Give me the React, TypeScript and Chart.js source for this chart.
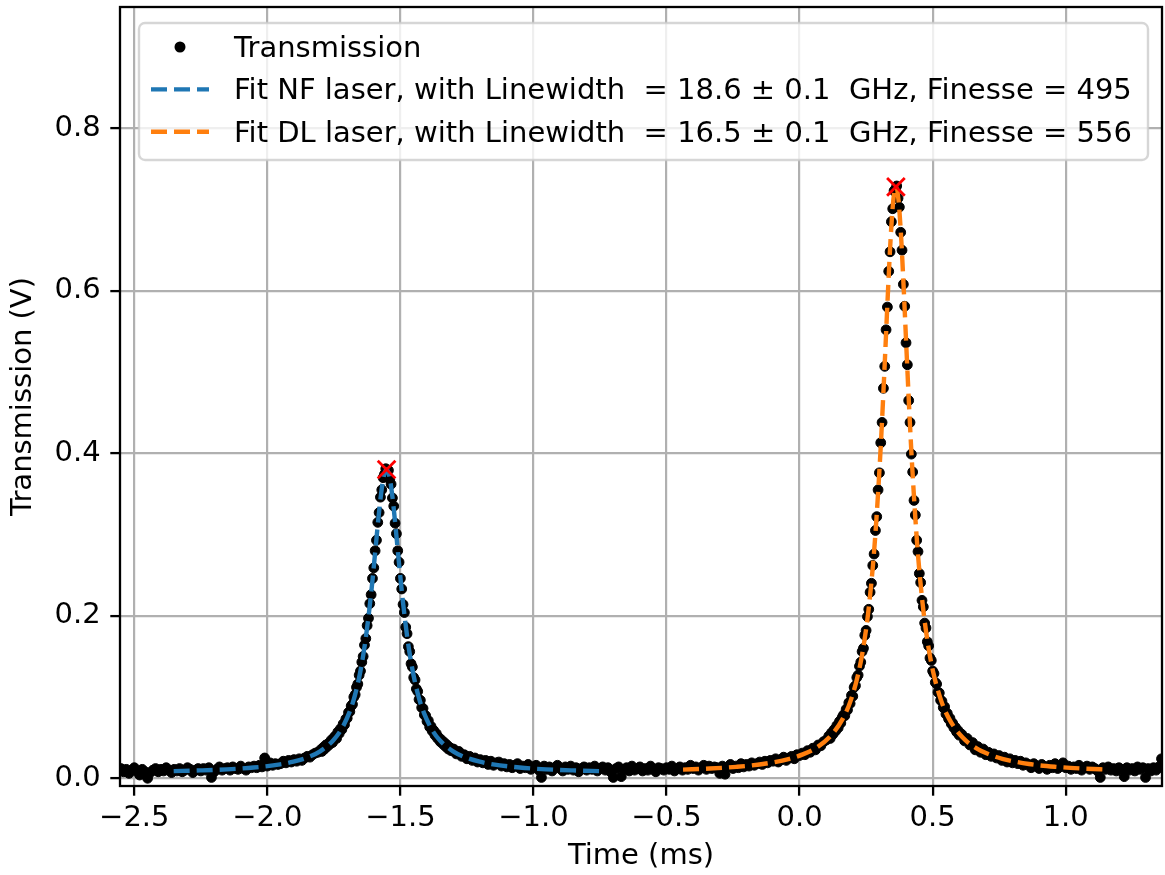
import React, { useEffect, useRef } from "react";
import { Chart, registerables } from "chart.js";

Chart.register(...registerables);

const FONT_FAMILY = "'DejaVu Sans', 'Liberation Sans', sans-serif";
const FONT_SIZE = 29;

// ---- axes ----
const xTicks = [-2.5, -2.0, -1.5, -1.0, -0.5, 0.0, 0.5, 1.0];
const yTicks = [0.0, 0.2, 0.4, 0.6, 0.8];
const xMin = -2.5537;
const xMax = 1.3619;
const yMin = -0.0095;
const yMax = 0.9493;
const xLabel = "Time (ms)";
const yLabel = "Transmission (V)";

// ---- series labels ----
const dataLabel = "Transmission";
const fitNFLabel = "Fit NF laser, with Linewidth  = 18.6 \u00b1 0.1  GHz, Finesse = 495";
const fitDLLabel = "Fit DL laser, with Linewidth  = 16.5 \u00b1 0.1  GHz, Finesse = 556";

// ---- measured transmission (V), sampled in segments: start (ms), step (ms), values ----
const measStartA = -2.55;
const measStepA = 0.01;
const measA = [
  0.012, 0.008, 0.011, 0.006, 0.010, 0.013, 0.009, 0.004, 0.011, 0.008,
  0.000, 0.007, 0.010, 0.012, 0.008, 0.011, 0.009, 0.013, 0.010, 0.007,
  0.011, 0.009, 0.012, 0.008, 0.010, 0.013, 0.011, 0.007, 0.010, 0.012,
  0.009, 0.012, 0.010, 0.013, 0.001, 0.008, 0.011, 0.014, 0.010, 0.012,
  0.013, 0.010, 0.014, 0.012, 0.011, 0.015, 0.012, 0.010, 0.014, 0.013,
  0.015, 0.013, 0.016, 0.014, 0.025, 0.015, 0.019, 0.016, 0.018, 0.017,
  0.018, 0.021, 0.019, 0.022, 0.020, 0.023, 0.021, 0.024, 0.022, 0.025,
  0.027, 0.026, 0.029, 0.031, 0.032,
];

const measStartB = -1.8;
const measStepB = 0.005;
const measB = [
  0.035, 0.033, 0.038, 0.036, 0.041, 0.039, 0.043, 0.042, 0.047, 0.044,
  0.050, 0.052, 0.049, 0.057, 0.055, 0.061, 0.060, 0.067, 0.066, 0.073,
  0.074, 0.081, 0.082, 0.089, 0.091, 0.100, 0.103, 0.112, 0.116, 0.127,
  0.132, 0.143, 0.150, 0.164, 0.172, 0.188, 0.197, 0.215, 0.226, 0.246,
  0.259, 0.280, 0.293, 0.315, 0.327, 0.346, 0.355, 0.370, 0.374, 0.381,
  0.378, 0.379, 0.368, 0.362, 0.345, 0.335, 0.314, 0.301, 0.280, 0.266,
  0.246, 0.233, 0.214, 0.204, 0.186, 0.178, 0.162, 0.156, 0.141, 0.137,
  0.124, 0.121, 0.110, 0.107, 0.097, 0.096, 0.087, 0.086, 0.078, 0.077,
  0.070, 0.071, 0.063, 0.064, 0.058, 0.059, 0.053, 0.055, 0.049, 0.050,
  0.045, 0.047, 0.042, 0.044, 0.039, 0.041, 0.036, 0.038, 0.034, 0.036,
];

const measStartC = -1.3;
const measStepC = 0.01;
const measC = [
  0.036, 0.030, 0.033, 0.027, 0.029, 0.024, 0.027, 0.022, 0.025, 0.020,
  0.023, 0.019, 0.022, 0.017, 0.021, 0.016, 0.019, 0.020, 0.015, 0.018,
  0.014, 0.017, 0.013, 0.016, 0.018, 0.012, 0.015, 0.013, 0.017, 0.011,
  0.014, 0.016, 0.010, 0.001, 0.015, 0.011, 0.014, 0.009, 0.013, 0.016,
  0.012, 0.009, 0.014, 0.011, 0.015, 0.010, 0.013, 0.008, 0.012, 0.014,
  0.010, 0.013, 0.011, 0.015, 0.009, 0.012, 0.014, 0.010, 0.013, 0.008,
  0.001, 0.012, 0.014, 0.002, 0.011, 0.013, 0.009, 0.015, 0.010, 0.012,
  0.014, 0.009, 0.012, 0.010, 0.015, 0.011, 0.008, 0.013, 0.012, 0.010,
  0.013, 0.011, 0.015, 0.009, 0.012, 0.014, 0.010, 0.013, 0.011, 0.016,
  0.012, 0.014, 0.010, 0.013, 0.016, 0.011, 0.015, 0.012, 0.014, 0.013,
  0.006, 0.015, 0.005, 0.014, 0.017, 0.012, 0.015, 0.013, 0.018, 0.014,
  0.017, 0.015, 0.019, 0.016, 0.018, 0.020, 0.017, 0.021, 0.019, 0.022,
  0.021, 0.024, 0.020, 0.023, 0.026, 0.022, 0.025, 0.027, 0.024, 0.029,
  0.028, 0.031, 0.029, 0.034, 0.032, 0.037, 0.035, 0.041, 0.040, 0.045,
  0.047,
];

const measStartD = 0.11;
const measStepD = 0.005;
const measD = [
  0.052, 0.049, 0.056, 0.054, 0.060, 0.058, 0.065, 0.062, 0.070, 0.068,
  0.075, 0.078, 0.077, 0.085, 0.084, 0.093, 0.092, 0.102, 0.101, 0.112,
  0.114, 0.124, 0.127, 0.138, 0.143, 0.156, 0.160, 0.176, 0.182, 0.199,
  0.208, 0.229, 0.240, 0.262, 0.276, 0.305, 0.322, 0.355, 0.376, 0.413,
  0.438, 0.480, 0.507, 0.552, 0.580, 0.624, 0.648, 0.685, 0.701, 0.723,
  0.725, 0.729, 0.714, 0.703, 0.672, 0.650, 0.608, 0.581, 0.536, 0.509,
  0.465, 0.438, 0.399, 0.377, 0.342, 0.324, 0.293, 0.279, 0.252, 0.241,
  0.219, 0.211, 0.191, 0.185, 0.168, 0.163, 0.148, 0.145, 0.132, 0.129,
  0.118, 0.116, 0.106, 0.105, 0.096, 0.095, 0.087, 0.088, 0.079, 0.080,
  0.073, 0.074, 0.067, 0.068, 0.062, 0.063, 0.057, 0.059, 0.053, 0.055,
];

const measStartE = 0.61;
const measStepE = 0.01;
const measE = [
  0.054, 0.046, 0.049, 0.041, 0.044, 0.035, 0.039, 0.032, 0.036, 0.029,
  0.032, 0.027, 0.030, 0.025, 0.028, 0.022, 0.026, 0.020, 0.024, 0.019,
  0.022, 0.018, 0.021, 0.016, 0.019, 0.017, 0.013, 0.018, 0.015, 0.012,
  0.017, 0.014, 0.011, 0.016, 0.013, 0.018, 0.012, 0.015, 0.019, 0.013,
  0.015, 0.011, 0.014, 0.012, 0.016, 0.010, 0.013, 0.015, 0.011, 0.014,
  0.012, 0.009, 0.001, 0.013, 0.011, 0.014, 0.010, 0.012, 0.009, 0.013,
  0.011, 0.002, 0.013, 0.010, 0.012, 0.009, 0.014, 0.011, 0.013, 0.001,
  0.012, 0.009, 0.013, 0.010, 0.014, 0.024,
];

// ---- Lorentzian fits ----
const fitNFx = [
  -2.352, -2.252, -2.152, -2.052, -1.952, -1.902, -1.852, -1.802, -1.752, -1.722,
  -1.692, -1.672, -1.652, -1.632, -1.612, -1.602, -1.592, -1.582, -1.572, -1.562,
  -1.552,
  -1.542, -1.532, -1.522, -1.512, -1.502, -1.492, -1.472, -1.452, -1.432, -1.412,
  -1.382, -1.352, -1.302, -1.252, -1.202, -1.152, -1.052, -0.952, -0.852, -0.752,
];
const fitNFy = [
  0.0088, 0.0097, 0.0110, 0.0132, 0.0171, 0.0204, 0.0253, 0.0332, 0.0468, 0.0602,
  0.0808, 0.1009, 0.1290, 0.1682, 0.2216, 0.2536, 0.2880, 0.3220, 0.3518, 0.3725,
  0.3800,
  0.3725, 0.3518, 0.3220, 0.2880, 0.2536, 0.2216, 0.1682, 0.1290, 0.1009, 0.0808,
  0.0602, 0.0468, 0.0332, 0.0253, 0.0204, 0.0171, 0.0132, 0.0110, 0.0097, 0.0088,
];
const fitDLx = [
  -0.438, -0.338, -0.238, -0.138, -0.038, 0.012, 0.062, 0.112, 0.162, 0.192,
  0.222, 0.242, 0.262, 0.282, 0.302, 0.312, 0.322, 0.332, 0.342, 0.352,
  0.362,
  0.372, 0.382, 0.392, 0.402, 0.412, 0.422, 0.442, 0.462, 0.482, 0.502,
  0.532, 0.562, 0.612, 0.662, 0.712, 0.762, 0.862, 0.962, 1.062, 1.162,
];
const fitDLy = [
  0.0106, 0.0120, 0.0141, 0.0176, 0.0240, 0.0294, 0.0374, 0.0504, 0.0731, 0.0956,
  0.1308, 0.1659, 0.2158, 0.2877, 0.3903, 0.4543, 0.5251, 0.5979, 0.6637, 0.7108,
  0.7280,
  0.7108, 0.6637, 0.5979, 0.5251, 0.4543, 0.3903, 0.2877, 0.2158, 0.1659, 0.1308,
  0.0956, 0.0731, 0.0504, 0.0374, 0.0294, 0.0240, 0.0176, 0.0141, 0.0120, 0.0106,
];

// ---- detected peaks ----
const peakX = [-1.552, 0.362];
const peakY = [0.38, 0.728];

const measSegments: [number, number, number[]][] = [
  [measStartA, measStepA, measA],
  [measStartB, measStepB, measB],
  [measStartC, measStepC, measC],
  [measStartD, measStepD, measD],
  [measStartE, measStepE, measE],
];

const fmtTick = (v: number) => {
  const s = Math.abs(v).toFixed(1);
  return v < -1e-9 ? "\u2212" + s : s;
};

const spinesPlugin = {
  id: "spines",
  afterDatasetsDraw(chart: any) {
    const { ctx, chartArea } = chart;
    ctx.save();
    ctx.strokeStyle = "#000";
    ctx.lineWidth = 2.3;
    ctx.strokeRect(chartArea.left, chartArea.top, chartArea.right - chartArea.left, chartArea.bottom - chartArea.top);
    ctx.restore();
  },
};

const legendPlugin = {
  id: "mplLegend",
  afterDraw(chart: any) {
    const { ctx, chartArea } = chart;
    const items = chart.data.datasets.filter((d: any) => !d.hideInLegend);
    const bx = chartArea.left + 19;
    const by = chartArea.top + 16;
    const bw = 1009;
    const bh = 137;
    ctx.save();
    ctx.beginPath();
    (ctx as any).roundRect(bx, by, bw, bh, 6);
    ctx.fillStyle = "rgba(255,255,255,0.8)";
    ctx.fill();
    ctx.strokeStyle = "rgba(204,204,204,0.8)";
    ctx.lineWidth = 2.4;
    ctx.stroke();

    ctx.font = `${FONT_SIZE}px ${FONT_FAMILY}`;
    ctx.textBaseline = "alphabetic";
    ctx.textAlign = "left";
    items.forEach((d: any, i: number) => {
      const base = by + 34 + i * 42.4;
      const cy = base - 10;
      const hx0 = bx + 12;
      const hx1 = bx + 70;
      if (d.showLine) {
        ctx.beginPath();
        ctx.setLineDash(d.borderDash || []);
        ctx.strokeStyle = d.borderColor;
        ctx.lineWidth = d.borderWidth;
        ctx.moveTo(hx0, cy);
        ctx.lineTo(hx1, cy);
        ctx.stroke();
        ctx.setLineDash([]);
      } else {
        ctx.beginPath();
        ctx.fillStyle = d.pointBackgroundColor;
        ctx.arc((hx0 + hx1) / 2, cy, (d.pointRadius || 4) + 0.6, 0, Math.PI * 2);
        ctx.fill();
      }
      ctx.fillStyle = "#000";
      ctx.fillText(d.label, bx + 95, base);
    });
    ctx.restore();
  },
};

export default function App() {
  const canvasRef = useRef<HTMLCanvasElement | null>(null);

  useEffect(() => {
    const canvas = canvasRef.current;
    if (!canvas) return;

    const measured = measSegments.flatMap(([start, step, vals]) =>
      vals.map((y, i) => ({ x: +(start + i * step).toFixed(4), y }))
    );
    const fitNF = fitNFx.map((x, i) => ({ x, y: fitNFy[i] }));
    const fitDL = fitDLx.map((x, i) => ({ x, y: fitDLy[i] }));
    const peaks = peakX.map((x, i) => ({ x, y: peakY[i] }));

    const font = { family: FONT_FAMILY, size: FONT_SIZE };

    const chart = new Chart(canvas, {
      type: "scatter",
      data: {
        datasets: [
          {
            label: dataLabel,
            data: measured,
            showLine: false,
            pointRadius: 4.9,
            pointBorderWidth: 1,
            pointBackgroundColor: "#000",
            pointBorderColor: "#000",
            backgroundColor: "#000",
            borderColor: "#000",
            order: 3,
            clip: 0,
          },
          {
            label: fitNFLabel,
            data: fitNF,
            showLine: true,
            borderColor: "#1f77b4",
            backgroundColor: "#1f77b4",
            borderWidth: 4.4,
            borderDash: [16, 7],
            pointRadius: 0,
            cubicInterpolationMode: "monotone",
            fill: false,
            order: 2,
            clip: 0,
          },
          {
            label: fitDLLabel,
            data: fitDL,
            showLine: true,
            borderColor: "#ff7f0e",
            backgroundColor: "#ff7f0e",
            borderWidth: 4.4,
            borderDash: [16, 7],
            pointRadius: 0,
            cubicInterpolationMode: "monotone",
            fill: false,
            order: 2,
            clip: 0,
          },
          {
            label: "peaks",
            data: peaks,
            showLine: false,
            pointStyle: "crossRot",
            pointRadius: 12.5,
            pointBorderWidth: 2.8,
            pointBorderColor: "#ff0000",
            pointBackgroundColor: "#ff0000",
            borderColor: "#ff0000",
            order: 1,
            clip: 0,
            hideInLegend: true,
          } as any,
        ],
      },
      options: {
        responsive: false,
        animation: false,
        devicePixelRatio: 1,
        events: [],
        layout: { autoPadding: false, padding: { top: 7, right: 3, left: 0, bottom: 0 } },
        plugins: {
          legend: { display: false },
          tooltip: { enabled: false },
          title: { display: false },
        },
        scales: {
          x: {
            type: "linear",
            min: xMin,
            max: xMax,
            afterBuildTicks: (s: any) => {
              s.ticks = xTicks.map((v) => ({ value: v }));
            },
            afterFit: (s: any) => {
              s.height = 89;
              s.paddingLeft = 0;
              s.paddingRight = 0;
            },
            ticks: {
              callback: (v: any) => fmtTick(Number(v)),
              font,
              color: "#000",
              padding: 4.9,
              maxRotation: 0,
              autoSkip: false,
            },
            grid: {
              color: "#b0b0b0",
              lineWidth: 2.2,
              tickColor: "#000",
              tickLength: 9.7,
              tickWidth: 2.3,
              drawTicks: true,
            },
            border: { display: false },
            title: {
              display: true,
              text: xLabel,
              font,
              color: "#000",
              padding: { top: 0, bottom: 1.6 },
            },
          },
          y: {
            type: "linear",
            min: yMin,
            max: yMax,
            afterBuildTicks: (s: any) => {
              s.ticks = yTicks.map((v) => ({ value: v }));
            },
            afterFit: (s: any) => {
              s.width = 120;
              s.paddingTop = 0;
              s.paddingBottom = 0;
            },
            ticks: {
              callback: (v: any) => fmtTick(Number(v)),
              font,
              color: "#000",
              padding: 9.6,
              autoSkip: false,
            },
            grid: {
              color: "#b0b0b0",
              lineWidth: 2.2,
              tickColor: "#000",
              tickLength: 9.7,
              tickWidth: 2.3,
              drawTicks: true,
            },
            border: { display: false },
            title: {
              display: true,
              text: yLabel,
              font,
              color: "#000",
              padding: { top: 5.6, bottom: 0 },
            },
          },
        },
      },
      plugins: [spinesPlugin, legendPlugin],
    } as any);

    return () => {
      chart.destroy();
    };
  }, []);

  return (
    <div style={{ position: "absolute", left: 0, top: 0, width: 1165, height: 875, background: "#fff" }}>
      <canvas ref={canvasRef} width={1165} height={875} style={{ width: 1165, height: 875, display: "block" }} />
    </div>
  );
}
